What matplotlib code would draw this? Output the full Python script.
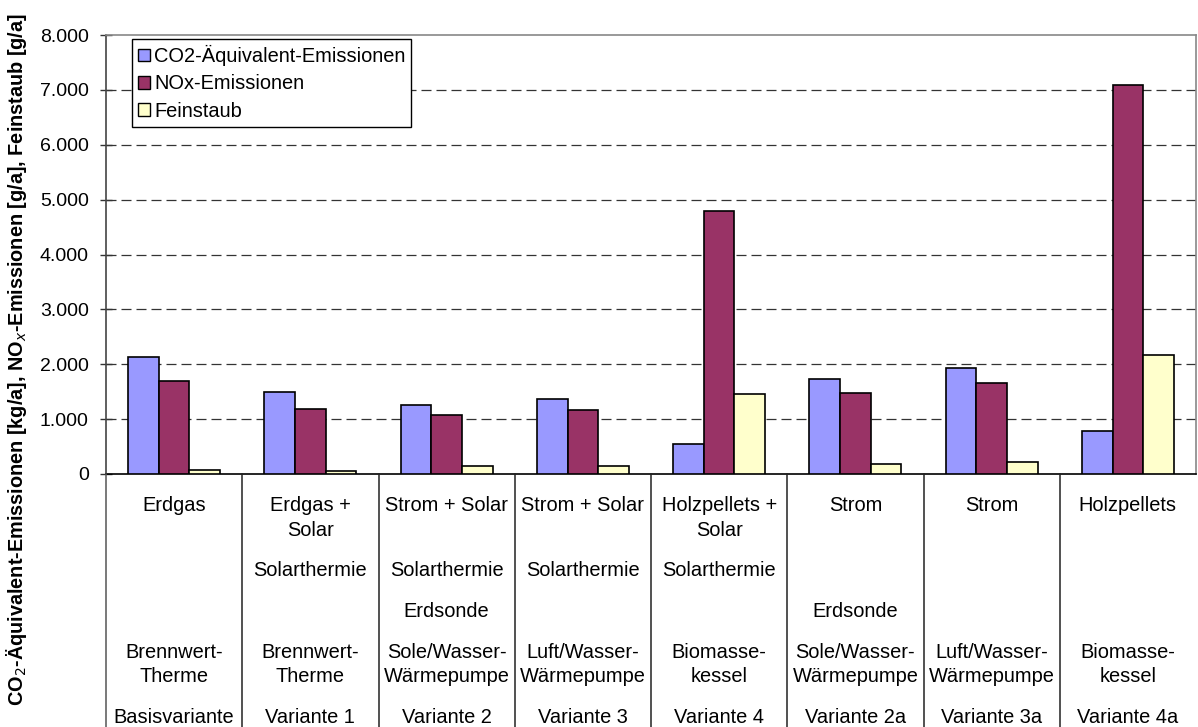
import matplotlib
matplotlib.use("Agg")
import matplotlib.pyplot as plt
import matplotlib.transforms as mtransforms
from matplotlib.patches import Patch
from matplotlib.lines import Line2D
import numpy as np

plt.rcParams['font.family'] = ['Liberation Sans', 'DejaVu Sans']

# ---- data ----
energy = ["Erdgas", "Erdgas +\nSolar", "Strom + Solar", "Strom + Solar",
          "Holzpellets +\nSolar", "Strom", "Strom", "Holzpellets"]
solar = ["", "Solarthermie", "Solarthermie", "Solarthermie", "Solarthermie", "", "", ""]
source = ["", "", "Erdsonde", "", "", "Erdsonde", "", ""]
generator = ["Brennwert-\nTherme", "Brennwert-\nTherme", "Sole/Wasser-\nWärmepumpe",
             "Luft/Wasser-\nWärmepumpe", "Biomasse-\nkessel", "Sole/Wasser-\nWärmepumpe",
             "Luft/Wasser-\nWärmepumpe", "Biomasse-\nkessel"]
variant = ["Basisvariante", "Variante 1", "Variante 2", "Variante 3",
           "Variante 4", "Variante 2a", "Variante 3a", "Variante 4a"]

series_names = ["CO2-Äquivalent-Emissionen", "NOx-Emissionen", "Feinstaub"]
co2 = [2130, 1490, 1260, 1370, 540, 1740, 1940, 790]
nox = [1690, 1180, 1070, 1160, 4800, 1480, 1660, 7080]
fein = [80, 60, 140, 150, 1460, 190, 210, 2160]
colors = ["#9999FF", "#993366", "#FFFFCC"]
yticks = [0, 1000, 2000, 3000, 4000, 5000, 6000, 7000, 8000]

# ---- figure ----
W, H = 1198, 727
fig = plt.figure(figsize=(W / 100, H / 100), dpi=100)
left_px, right_px, top_px, base_px = 106, 1196, 35, 474
ax = fig.add_axes([left_px / W, 1 - base_px / H, (right_px - left_px) / W, (base_px - top_px) / H])

n = len(variant)
x = np.arange(n)
bw = 0.225
for i, (vals, c) in enumerate(zip([co2, nox, fein], colors)):
    ax.bar(x + (i - 1) * bw, vals, width=bw, color=c, edgecolor="black", linewidth=1.2,
           label=series_names[i], zorder=3)

ax.set_xlim(-0.5, n - 0.5)
ax.set_ylim(0, 8000)
ax.set_yticks(yticks)
ax.set_yticklabels([f"{v:,}".replace(",", ".") for v in yticks], fontsize=14)
ax.tick_params(axis='y', direction='inout', length=9, width=1, pad=8, color="#333333")
ax.set_xticks([])
for y in yticks[1:-1]:
    ax.axhline(y, color="#333333", lw=0.9, ls=(0, (8, 4)), zorder=1)

for s in ["top", "right"]:
    ax.spines[s].set_color("#888888")
    ax.spines[s].set_linewidth(1.2)
ax.spines["left"].set_color("#444444")
ax.spines["left"].set_linewidth(1.2)
ax.spines["bottom"].set_color("black")
ax.spines["bottom"].set_linewidth(1.2)

# category table below axis
trans = mtransforms.blended_transform_factory(ax.transData, fig.transFigure)
fy = lambda py: 1 - py / H
for b in np.arange(-0.5, n - 0.5, 1.0):
    col = "#555555" if b == -0.5 else "#222222"
    fig.add_artist(Line2D([b, b], [fy(base_px), fy(H)], transform=trans,
                          color=col, lw=1.1))

fs = 14.4
def put(i, text, baseline_px, step=24.5):
    for k, line in enumerate(text.split("\n")):
        ax.text(i, fy(baseline_px + k * step), line, transform=trans,
                ha='center', va='baseline', fontsize=fs)

for i in range(n):
    put(i, energy[i], 511)
    if solar[i]:
        put(i, solar[i], 576)
    if source[i]:
        put(i, source[i], 617)
    put(i, generator[i], 658)
    put(i, variant[i], 723)

fig.text(17 / W, fy(360),
         r"CO$_2$-Äquivalent-Emissionen [kg/a], NO$_x$-Emissionen [g/a], Feinstaub [g/a]",
         rotation=90, ha='center', va='center', fontsize=14.3, fontweight='bold')

handles = [Patch(facecolor=c, edgecolor="black", linewidth=1.0) for c in colors]
leg = ax.legend(handles, series_names, loc='upper left',
                bbox_to_anchor=((132 - left_px) / (right_px - left_px), (base_px - 39) / (base_px - top_px)),
                fontsize=14.4, frameon=True, fancybox=False, framealpha=1,
                edgecolor="black", handlelength=0.6, handleheight=0.6,
                handletextpad=0.2, borderpad=0.3, labelspacing=0.42, borderaxespad=0)
leg.get_frame().set_linewidth(1.0)
leg.set_zorder(5)

fig.savefig("out.png", dpi=100, facecolor="white")
